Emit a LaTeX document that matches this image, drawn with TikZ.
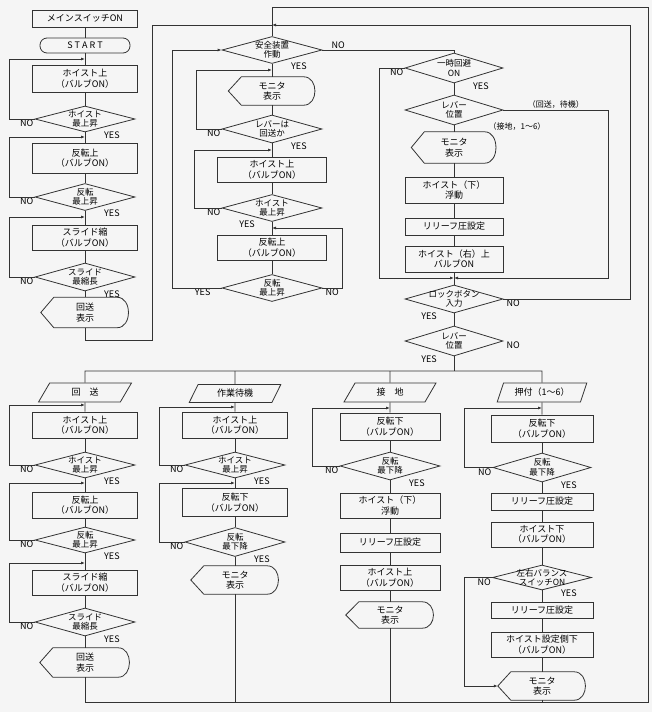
\documentclass[tikz,border=0pt]{standalone}
\usepackage{fontspec}
\setmainfont{Noto Sans CJK JP}
\usetikzlibrary{shapes.geometric,arrows.meta}

\tikzset{
  ln/.style={draw=black!80, line width=0.8pt},
  arr/.style={ln, -{Latex[length=4pt,width=3pt]}},
  proc/.style={rectangle, ln, minimum width=105pt, minimum height=26pt, align=center,
    inner sep=1pt, font=\fontsize{9}{10.5}\selectfont},
  dec/.style={diamond, ln, aspect=3.7, minimum width=100pt, minimum height=27pt, inner sep=0pt},
  dtxt/.style={align=center, inner sep=0pt, font=\fontsize{8.5}{9.5}\selectfont},
  disp/.style={rectangle, minimum width=86pt, minimum height=28pt, align=center,
    inner sep=1pt, font=\fontsize{9}{10.5}\selectfont},
  term/.style={trapezium, trapezium left angle=66, trapezium right angle=114,
    trapezium stretches=true, ln, minimum width=92pt, minimum height=19pt,
    inner sep=1pt, font=\fontsize{9}{10.5}\selectfont},
  lab/.style={inner sep=1pt, font=\fontsize{9}{10}\selectfont},
  nol/.style={label={[lab,anchor=north east]west:NO}},
  nor/.style={label={[lab,anchor=south west,xshift=8pt]east:NO}},
  norb/.style={label={[lab,anchor=north west,xshift=2pt]east:NO}},
  yesr/.style={label={[lab,anchor=north west,xshift=18pt,yshift=2pt]south:YES}},
  yesl/.style={label={[lab,anchor=north east,xshift=-16pt,yshift=2pt]south:YES}},
  yesw/.style={label={[lab,anchor=north east,xshift=-10pt]west:YES}}
}

\begin{document}
\begin{tikzpicture}[x=1pt, y=-1pt]
\fill[black!4] (0,0) rectangle (652,712);
\useasboundingbox (0,0) rectangle (652,712);

% start-up column
\node[proc, minimum height=17pt] (ms) at (85,18.5) {メインスイッチON};
\node[proc, rounded corners=7pt, minimum width=90pt, minimum height=15pt] (st) at (85,45.5) {S T A R T};
\node[proc, minimum height=27pt] (l1) at (85,78.5) {ホイスト上\\（バルブON）};
\node[dec, minimum height=26pt, label={[dtxt]center:ホイスト\\最上昇}, nol, yesr] (l2) at (85,119) {};
\node[proc, minimum height=30pt] (l3) at (85,158) {反転上\\（バルブON）};
\node[dec, label={[dtxt]center:反転\\最上昇}, nol, yesr] (l4) at (85,197) {};
\node[proc, minimum height=25pt] (l5) at (85,237.5) {スライド縮\\（バルブON）};
\node[dec, minimum height=28pt, label={[dtxt]center:スライド\\最縮長}, nol, yesr] (l6) at (85,277) {};
\node[disp, minimum width=88pt, minimum height=30pt] (l7) at (85,312.5) {回送\\表示};
\coordinate (lj1) at (85,59);
\coordinate (lj2) at (85,137);
\coordinate (lj3) at (85,217);

% safety column
\coordinate (mtop) at (272,7);
\coordinate (mj) at (272,25);
\node[dec, label={[dtxt]center:安全装置\\作動}, nor, yesr] (m1) at (272,50) {};
\node[disp, minimum width=87pt] (m2) at (272,91) {モニタ\\表示};
\node[dec, minimum height=28pt, label={[dtxt]center:レバーは\\回送か}, nol, yesr] (m3) at (272,129) {};
\node[proc, minimum width=109pt, minimum height=25pt] (m4) at (272,169.5) {ホイスト上\\（バルブON）};
\node[dec, label={[dtxt]center:ホイスト\\最上昇}, nol, yesl] (m5) at (272,208) {};
\node[proc, minimum width=109pt, minimum height=25pt] (m6) at (272,247.5) {反転上\\（バルブON）};
\node[dec, label={[dtxt]center:反転\\最上昇}, yesw, norb] (m7) at (272,288) {};
\coordinate (mj2) at (272,70);
\coordinate (mj3) at (272,150);
\coordinate (mj4) at (272,228);

% bypass column
\node[dec, minimum width=98pt, minimum height=30pt, label={[dtxt]center:一時回避\\ON}, nol, yesr] (r1) at (454,68) {};
\node[dec, minimum width=98pt, minimum height=30pt, label={[dtxt]center:レバー\\位置}] (r2) at (454,110) {};
\node[disp, minimum width=85pt, minimum height=31pt] (r3) at (454,147.5) {モニタ\\表示};
\node[proc, minimum width=98pt] (r4) at (454,190) {ホイスト（下）\\浮動};
\node[proc, minimum width=98pt, minimum height=17pt] (r5) at (454,226.5) {リリーフ圧設定};
\node[proc, minimum width=98pt] (r6) at (454,259) {ホイスト（右）上\\バルブON};
\node[dec, minimum width=98pt, minimum height=28pt, label={[dtxt]center:ロックボタン\\入力}, norb, yesl] (r7) at (454,299) {};
\node[dec, minimum width=98pt, minimum height=30pt, label={[dtxt]center:レバー\\位置}, norb, yesl] (r8) at (454,341) {};
\node[lab, font=\fontsize{8}{9}\selectfont] (r2b) at (517,127) {（接地，1～6）};
\coordinate (rj) at (454,278);
\coordinate (bus) at (454,371);

% lever branches
\node[term, minimum width=93pt] (b1a) at (85,392.5) {回　送};
\node[proc] (b1b) at (85,425) {ホイスト上\\（バルブON）};
\node[dec, minimum height=26pt, label={[dtxt]center:ホイスト\\最上昇}, nol, yesr] (b1c) at (85,465) {};
\node[proc] (b1d) at (85,505) {反転上\\（バルブON）};
\node[dec, minimum height=26pt, label={[dtxt]center:反転\\最上昇}, nol, yesr] (b1e) at (85,540) {};
\node[proc, minimum height=25pt] (b1f) at (85,582.5) {スライド縮\\（バルブON）};
\node[dec, minimum height=28pt, label={[dtxt]center:スライド\\最縮長}, nol, yesr] (b1g) at (85,622) {};
\node[disp, minimum width=90pt, minimum height=29pt] (b1h) at (85,662.5) {回送\\表示};
\coordinate (b1j1) at (85,405);
\coordinate (b1j2) at (85,483);
\coordinate (b1j3) at (85,563);

\node[term, minimum height=18pt] (b2a) at (235,393.5) {作業待機};
\node[proc] (b2b) at (235,425) {ホイスト上\\（バルブON）};
\node[dec, minimum height=26pt, label={[dtxt]center:ホイスト\\最上昇}, nol, yesr] (b2c) at (235,465) {};
\node[proc, minimum height=28pt] (b2d) at (235,502.5) {反転下\\（バルブON）};
\node[dec, minimum height=29pt, label={[dtxt]center:反転\\最下降}, nol, yesr] (b2e) at (235,542) {};
\node[disp, minimum width=88pt] (b2f) at (235,580) {モニタ\\表示};
\coordinate (b2j1) at (235,407);
\coordinate (b2j2) at (235,483);

\node[term] (b3a) at (390,392.5) {接　地};
\node[proc, minimum width=100pt, minimum height=27pt] (b3b) at (390,426.5) {反転下\\（バルブON）};
\node[dec, minimum height=28pt, label={[dtxt]center:反転\\最下降}, nol, yesr] (b3c) at (390,466) {};
\node[proc, minimum width=100pt, minimum height=25pt] (b3d) at (390,505.5) {ホイスト（下）\\浮動};
\node[proc, minimum width=100pt, minimum height=19pt] (b3e) at (390,542.5) {リリーフ圧設定};
\node[proc, minimum width=100pt, minimum height=25pt] (b3f) at (390,577.5) {ホイスト上\\（バルブON）};
\node[disp, minimum width=88pt, minimum height=26pt] (b3g) at (390,615) {モニタ\\表示};
\coordinate (b3j1) at (390,408);

\node[term, minimum width=90pt] (b4a) at (542,392.5) {押付（1～6）};
\node[proc, minimum width=102pt, minimum height=27pt] (b4b) at (542,428.5) {反転下\\（バルブON）};
\node[dec, minimum width=98pt, minimum height=29pt, label={[dtxt]center:反転\\最下降}, nol, yesr] (b4c) at (542,467.5) {};
\node[proc, minimum width=102pt, minimum height=17pt] (b4d) at (542,501.5) {リリーフ圧設定};
\node[proc, minimum width=102pt, minimum height=25pt] (b4e) at (542,534.5) {ホイスト下\\（バルブON）};
\node[dec, minimum width=99pt, minimum height=25pt, label={[dtxt]center:左右バランス\\スイッチON}, nol, yesr] (b4f) at (542,577.5) {};
\node[proc, minimum width=102pt, minimum height=16pt] (b4g) at (542,610.5) {リリーフ圧設定};
\node[proc, minimum width=102pt, minimum height=25pt] (b4h) at (542,644.5) {ホイスト設定側下\\（バルブON）};
\node[disp, minimum width=88pt, minimum height=28pt] (b4i) at (542,686) {モニタ\\表示};
\coordinate (b4j1) at (542,408);
\coordinate (bot) at (648,702);

% display outlines
\foreach \n in {l7,m2,r3,b1h,b2f,b3g,b4i}
  \draw[ln] (\n.west) -- ([xshift=13pt]\n.north west) -- ([xshift=-12pt]\n.north east)
    .. controls ([xshift=3pt]\n.north east) and ([xshift=3pt]\n.south east) .. ([xshift=-12pt]\n.south east)
    -- ([xshift=13pt]\n.south west) -- cycle;

% straight runs
\foreach \a/\b in {ms/st,st/l1,l1/l2,l2/l3,l3/l4,l4/l5,l5/l6,l6/l7,
    m1/m2,m2/m3,m3/m4,m4/m5,m5/m6,m6/m7,
    r1/r2,r2/r3,r3/r4,r4/r5,r5/r6,r6/r7,r7/r8,
    b1a/b1b,b1b/b1c,b1c/b1d,b1d/b1e,b1e/b1f,b1f/b1g,b1g/b1h,
    b2a/b2b,b2b/b2c,b2c/b2d,b2d/b2e,b2e/b2f,
    b3a/b3b,b3b/b3c,b3c/b3d,b3d/b3e,b3e/b3f,b3f/b3g,
    b4a/b4b,b4b/b4c,b4c/b4d,b4d/b4e,b4e/b4f,b4f/b4g,b4g/b4h,b4h/b4i}
  \draw[ln] (\a) -- (\b);

% loops
\draw[arr] (l2.west) -- ++(-25,0) |- (lj1);
\draw[arr] (l4.west) -- ++(-25,0) |- (lj2);
\draw[arr] (l6.west) -- ++(-25,0) |- (lj3);
\draw[ln] (l7) -- ++(0,28) -| (152,25) -- (mj);

\draw[ln] (mtop) -- (m1);
\draw[ln] (m1.east) -| (r1.north);
\draw[arr] (m3.west) -- ++(-25,0) |- (mj2);
\draw[arr] (m5.west) -- ++(-27,0) |- (mj3);
\draw[arr] (m7.east) -- ++(20,0) |- (mj4);
\draw[arr] (m7.west) -- ++(-49,0) |- (m1.west);

\draw[arr] (r1.west) -- ++(-25,0) |- (rj);
\draw[arr] (r2.east) -- node[lab, above, font=\fontsize{8}{9}\selectfont] (r2a) {（回送，待機）} ++(105,0) |- (rj);
\draw[arr] (r7.east) -- ++(127,0) |- (mj);
\draw[ln] (r8) -- (bus);

\draw[ln] (b1a) -- (b1a |- bus) -- (b4a |- bus) -- (b4a);
\draw[ln] (b2a) -- (b2a |- bus);
\draw[ln] (b3a) -- (b3a |- bus);

\draw[arr] (b1c.west) -- ++(-25,0) |- (b1j1);
\draw[arr] (b1e.west) -- ++(-25,0) |- (b1j2);
\draw[arr] (b1g.west) -- ++(-25,0) |- (b1j3);
\draw[arr] (b2c.west) -- ++(-25,0) |- (b2j1);
\draw[arr] (b2e.west) -- ++(-25,0) |- (b2j2);
\draw[arr] (b3c.west) -- ++(-27,0) |- (b3j1);
\draw[arr] (b4c.west) -- ++(-28,0) |- (b4j1);
\draw[arr] (b4f.west) -- ++(-28,0) |- (b4i.west);

\draw[ln] (b1h) |- (bot) |- (mtop);
\draw[ln] (b2f) -- (b2f |- bot);
\draw[ln] (b3g) -- (b3g |- bot);
\draw[ln] (b4i) -- (b4i |- bot);
\end{tikzpicture}
\end{document}
